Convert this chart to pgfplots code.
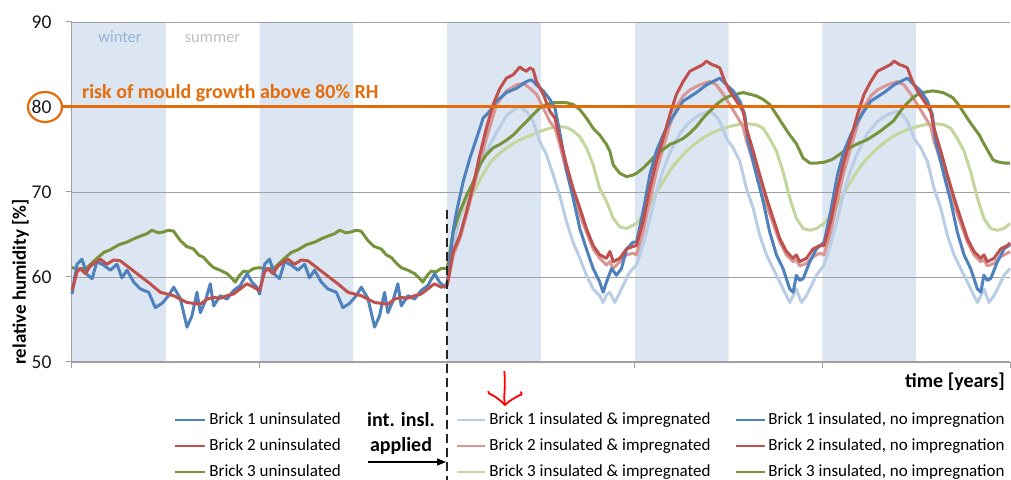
\documentclass[border=0pt]{standalone}
\usepackage{fontspec}
\setmainfont{Carlito}
\usepackage{pgfplots}
\pgfplotsset{compat=1.18}
\usetikzlibrary{shapes.geometric,arrows.meta}
\definecolor{cBlue}{HTML}{4F81BD}
\definecolor{cRed}{HTML}{C0504D}
\definecolor{cGreen}{HTML}{77933C}
\definecolor{cLBlue}{HTML}{B9CDE5}
\definecolor{cLRed}{HTML}{DA9694}
\definecolor{cLGreen}{HTML}{C3D69B}
\definecolor{cBand}{HTML}{DCE6F2}
\definecolor{cOrange}{HTML}{E46C0A}
\definecolor{cGrid}{HTML}{A0A0A0}
\definecolor{cWinter}{HTML}{95B3D7}
\definecolor{cSummer}{HTML}{BFBFBF}
\begin{document}
\begin{tikzpicture}[x=1bp,y=1bp]
\begin{axis}[
  at={(0,0)}, anchor=south west,
  scale only axis, width=938bp, height=340bp,
  xmin=0, xmax=5, ymin=50, ymax=90, enlargelimits=false,
  set layers, clip=false,
  axis x line*=bottom, axis y line*=left,
  axis line style={cGrid, line width=1bp, -},
  xtick={0,1,2,3,4,5}, xticklabels={},
  ytick={50,60,70,80,90},
  ymajorgrids, grid style={cGrid, line width=0.8bp},
  tick align=outside, major tick length=6bp,
  tick style={cGrid, line width=1bp},
  yticklabel style={font=\fontsize{19.5bp}{22bp}\selectfont, xshift=-11bp, text=black!90},
  /pgf/number format/assume math mode=true,
  every axis plot/.append style={line width=3bp, line join=round},
]
% winter bands
\addplot[fill=cBand, draw=none, line width=0, on layer=axis background] coordinates {(0,50)(0,90)(0.5,90)(0.5,50)(0,50)};
\addplot[fill=cBand, draw=none, line width=0, on layer=axis background] coordinates {(1,50)(1,90)(1.5,90)(1.5,50)(1,50)};
\addplot[fill=cBand, draw=none, line width=0, on layer=axis background] coordinates {(2,50)(2,90)(2.5,90)(2.5,50)(2,50)};
\addplot[fill=cBand, draw=none, line width=0, on layer=axis background] coordinates {(3,50)(3,90)(3.5,90)(3.5,50)(3,50)};
\addplot[fill=cBand, draw=none, line width=0, on layer=axis background] coordinates {(4,50)(4,90)(4.5,90)(4.5,50)(4,50)};

% Brick 3 uninsulated
\addplot[cGreen] coordinates {(0,61.1)(0.040,60.9)(0.080,61.1)(0.133,62.2)(0.170,62.9)(0.204,63.2)(0.250,63.8)(0.293,64.1)(0.330,64.5)(0.364,64.8)(0.400,65.1)(0.426,65.5)(0.460,65.2)(0.488,65.3)(0.515,65.5)(0.541,65.4)(0.577,64.3)(0.610,63.6)(0.648,63.3)(0.675,62.6)(0.702,62.3)(0.730,61.6)(0.755,61.1)(0.790,60.8)(0.826,60.4)(0.850,59.9)(0.870,59.4)(0.890,60.1)(0.915,60.7)(0.940,60.6)(0.968,61.0)
(1,61.1)(1.040,60.9)(1.080,61.1)(1.133,62.2)(1.170,62.9)(1.204,63.2)(1.250,63.8)(1.293,64.1)(1.330,64.5)(1.364,64.8)(1.400,65.1)(1.426,65.5)(1.460,65.2)(1.488,65.3)(1.515,65.5)(1.541,65.4)(1.577,64.3)(1.610,63.6)(1.648,63.3)(1.675,62.6)(1.702,62.3)(1.730,61.6)(1.755,61.1)(1.790,60.8)(1.826,60.4)(1.850,59.9)(1.870,59.4)(1.890,60.1)(1.915,60.7)(1.940,60.6)(1.968,61.0)(2.000,61.0)};
% Brick 1 uninsulated
\addplot[cBlue] coordinates {(0,58.0)(0.027,61.5)(0.053,62.1)(0.080,60.3)(0.107,59.8)(0.133,61.8)(0.169,61.4)(0.204,60.8)(0.240,61.5)(0.266,59.9)(0.293,60.8)(0.329,59.4)(0.364,58.6)(0.409,58.2)(0.444,56.4)(0.480,56.9)(0.515,57.8)(0.542,58.8)(0.577,57.5)(0.613,54.1)(0.639,55.4)(0.666,58.2)(0.684,55.8)(0.711,57.2)(0.737,59.2)(0.755,56.6)(0.790,57.8)(0.826,57.4)(0.861,58.4)(0.897,59.0)(0.933,60.4)(0.959,59.4)(0.986,58.8)
(1,58.0)(1.027,61.5)(1.053,62.1)(1.080,60.3)(1.107,59.8)(1.133,61.8)(1.169,61.4)(1.204,60.8)(1.240,61.5)(1.266,59.9)(1.293,60.8)(1.329,59.4)(1.364,58.6)(1.409,58.2)(1.444,56.4)(1.480,56.9)(1.515,57.8)(1.542,58.8)(1.577,57.5)(1.613,54.1)(1.639,55.4)(1.666,58.2)(1.684,55.8)(1.711,57.2)(1.737,59.2)(1.755,56.6)(1.790,57.8)(1.826,57.4)(1.861,58.4)(1.897,59.0)(1.933,60.4)(1.959,59.4)(1.986,58.8)(2.000,59.3)};
% Brick 2 uninsulated
\addplot[cRed] coordinates {(0,58.4)(0.027,60.6)(0.044,61.0)(0.071,60.4)(0.098,61.3)(0.151,62.1)(0.186,61.5)(0.222,62.0)(0.258,61.9)(0.293,61.3)(0.311,61.0)(0.364,60.1)(0.417,59.2)(0.471,58.2)(0.506,58.0)(0.542,57.8)(0.577,57.4)(0.613,57.0)(0.648,56.9)(0.684,56.8)(0.720,57.4)(0.755,57.6)(0.790,57.5)(0.826,57.8)(0.861,58.0)(0.897,58.6)(0.932,59.2)(0.968,58.8)
(1,58.4)(1.027,60.6)(1.044,61.0)(1.071,60.4)(1.098,61.3)(1.151,62.1)(1.186,61.5)(1.222,62.0)(1.258,61.9)(1.293,61.3)(1.311,61.0)(1.364,60.1)(1.417,59.2)(1.471,58.2)(1.506,58.0)(1.542,57.8)(1.577,57.4)(1.613,57.0)(1.648,56.9)(1.684,56.8)(1.720,57.4)(1.755,57.6)(1.790,57.5)(1.826,57.8)(1.861,58.0)(1.897,58.6)(1.932,59.2)(1.968,58.8)(2.000,59.0)};

% Brick 3 insulated & impregnated
\addplot[cLGreen] coordinates {(2.000,61.0)(2.032,64.9)(2.068,67.0)(2.103,68.8)(2.139,69.8)(2.183,71.8)(2.227,73.4)(2.272,74.4)(2.316,75.2)(2.360,75.8)(2.405,76.3)(2.449,76.7)(2.494,77.1)(2.530,77.4)(2.565,77.6)(2.600,77.7)(2.636,77.6)(2.671,77.2)(2.707,76.5)(2.742,75.2)(2.778,73.2)(2.813,70.4)(2.849,68.9)(2.885,66.9)(2.920,65.9)(2.956,65.7)(2.991,66.1)
(3.009,66.3)(3.035,67.0)(3.062,67.7)(3.106,69.6)(3.151,71.2)(3.196,72.8)(3.240,74.0)(3.285,75.0)(3.329,75.8)(3.373,76.5)(3.418,77.0)(3.462,77.4)(3.506,77.7)(3.542,77.9)(3.577,78.0)(3.613,78.0)(3.648,77.9)(3.684,77.5)(3.719,76.3)(3.755,74.8)(3.790,72.4)(3.826,69.3)(3.861,66.9)(3.897,65.7)(3.933,65.5)(3.968,65.7)
(4.009,66.3)(4.035,67.0)(4.062,67.7)(4.106,69.6)(4.151,71.2)(4.196,72.8)(4.240,74.0)(4.285,75.0)(4.329,75.8)(4.373,76.5)(4.418,77.0)(4.462,77.4)(4.506,77.7)(4.542,77.9)(4.577,78.0)(4.613,78.0)(4.648,77.9)(4.684,77.5)(4.719,76.3)(4.755,74.8)(4.790,72.4)(4.826,69.3)(4.861,66.9)(4.897,65.7)(4.933,65.5)(4.968,65.7)(5.000,66.3)};
% Brick 1 insulated & impregnated
\addplot[cLBlue] coordinates {(2.000,59.3)(2.032,63.5)(2.068,67.2)(2.104,69.3)(2.139,71.0)(2.174,73.0)(2.209,74.8)(2.263,77.0)(2.316,79.0)(2.352,79.6)(2.387,80.1)(2.405,79.7)(2.423,79.5)(2.458,78.3)(2.494,75.9)(2.529,74.4)(2.565,72.0)(2.600,69.6)(2.636,66.5)(2.671,64.1)(2.707,62.2)(2.742,60.2)(2.778,58.6)(2.813,57.8)(2.831,57.0)(2.849,57.9)(2.867,58.2)(2.893,57.0)(2.929,58.6)(2.973,60.6)
(3.009,61.4)(3.044,63.8)(3.080,66.8)(3.115,70.0)(3.151,72.6)(3.187,74.6)(3.240,76.9)(3.293,78.3)(3.346,79.1)(3.400,79.5)(3.435,78.9)(3.453,78.3)(3.489,76.3)(3.524,75.2)(3.560,73.6)(3.595,70.4)(3.631,68.1)(3.666,64.9)(3.702,62.6)(3.737,61.0)(3.773,59.4)(3.808,57.8)(3.826,57.0)(3.844,57.8)(3.861,58.6)(3.888,57.0)(3.915,57.8)(3.933,58.6)(3.968,60.2)
(4.009,61.4)(4.044,63.8)(4.080,66.8)(4.115,70.0)(4.151,72.6)(4.187,74.6)(4.240,76.9)(4.293,78.3)(4.346,79.1)(4.400,79.5)(4.435,78.9)(4.453,78.3)(4.489,76.3)(4.524,75.2)(4.560,73.6)(4.595,70.4)(4.631,68.1)(4.666,64.9)(4.702,62.6)(4.737,61.0)(4.773,59.4)(4.808,57.8)(4.826,57.0)(4.844,57.8)(4.861,58.6)(4.888,57.0)(4.915,57.8)(4.933,58.6)(4.968,60.2)(5.000,61.0)};
% Brick 2 insulated & impregnated
\addplot[cLRed] coordinates {(2.000,59.0)(2.032,62.5)(2.068,64.5)(2.103,67.3)(2.139,70.4)(2.174,73.4)(2.209,76.3)(2.263,80.3)(2.316,81.9)(2.369,82.6)(2.405,82.8)(2.441,82.2)(2.476,81.5)(2.512,79.9)(2.547,78.3)(2.574,77.5)(2.600,75.6)(2.636,72.4)(2.671,69.6)(2.707,67.3)(2.742,65.3)(2.778,63.3)(2.813,62.2)(2.849,61.4)(2.867,61.8)(2.885,61.0)(2.920,61.8)(2.956,62.6)(2.991,62.8)
(3.009,62.6)(3.044,65.3)(3.080,69.0)(3.115,72.4)(3.151,75.2)(3.187,77.9)(3.222,80.0)(3.258,81.3)(3.293,82.0)(3.346,82.6)(3.400,83.0)(3.435,82.6)(3.471,81.5)(3.506,80.3)(3.542,79.0)(3.577,77.7)(3.595,76.0)(3.631,73.6)(3.666,71.0)(3.702,68.5)(3.737,66.3)(3.773,64.1)(3.808,62.6)(3.844,61.8)(3.861,62.0)(3.879,61.3)(3.915,61.6)(3.950,62.4)(3.986,62.8)
(4.009,62.6)(4.044,65.3)(4.080,69.0)(4.115,72.4)(4.151,75.2)(4.187,77.9)(4.222,80.0)(4.258,81.3)(4.293,82.0)(4.346,82.6)(4.400,83.0)(4.435,82.6)(4.471,81.5)(4.506,80.3)(4.542,79.0)(4.577,77.7)(4.595,76.0)(4.631,73.6)(4.666,71.0)(4.702,68.5)(4.737,66.3)(4.773,64.1)(4.808,62.6)(4.844,61.8)(4.861,62.0)(4.879,61.3)(4.915,61.6)(4.950,62.4)(4.986,62.8)(5.000,63.0)};

% Brick 3 insulated, no impregnation
\addplot[cGreen] coordinates {(2.000,61.0)(2.032,65.3)(2.068,67.7)(2.103,69.6)(2.139,71.2)(2.174,73.2)(2.209,74.4)(2.245,75.2)(2.281,75.6)(2.316,76.1)(2.352,76.7)(2.387,77.5)(2.423,78.3)(2.458,79.1)(2.494,79.9)(2.529,80.3)(2.565,80.5)(2.600,80.5)(2.636,80.5)(2.671,80.3)(2.707,79.7)(2.742,78.7)(2.778,77.5)(2.813,76.7)(2.849,75.6)(2.867,74.8)(2.885,73.2)(2.920,72.2)(2.956,71.8)(2.991,72.0)
(3.009,72.2)(3.044,72.8)(3.080,73.6)(3.115,74.4)(3.151,75.0)(3.187,75.6)(3.222,75.9)(3.258,76.3)(3.293,76.9)(3.329,77.7)(3.364,78.7)(3.400,79.5)(3.435,80.3)(3.471,80.9)(3.506,81.3)(3.542,81.5)(3.577,81.7)(3.613,81.5)(3.648,81.3)(3.684,80.9)(3.719,80.3)(3.755,79.1)(3.790,77.9)(3.826,76.7)(3.861,75.7)(3.897,74.0)(3.933,73.4)(3.968,73.4)
(4.009,73.5)(4.050,73.8)(4.091,74.4)(4.127,75.0)(4.163,75.4)(4.200,75.8)(4.234,76.1)(4.270,76.6)(4.305,77.1)(4.340,77.7)(4.376,78.3)(4.403,79.1)(4.429,79.9)(4.455,80.5)(4.482,81.1)(4.510,81.5)(4.536,81.7)(4.560,81.8)(4.589,81.9)(4.615,81.8)(4.642,81.7)(4.670,81.4)(4.695,81.1)(4.713,80.6)(4.731,80.1)(4.757,79.2)(4.784,78.3)(4.810,77.5)(4.837,76.7)(4.855,75.9)(4.873,75.2)(4.891,74.5)(4.909,73.8)(4.927,73.6)(4.944,73.5)(4.972,73.4)(5.000,73.4)};
% Brick 1 insulated, no impregnation
\addplot[cBlue] coordinates {(2.000,59.3)(2.032,65.5)(2.050,67.7)(2.085,71.2)(2.121,74.0)(2.156,76.3)(2.192,78.7)(2.227,79.5)(2.263,80.7)(2.316,81.7)(2.369,82.2)(2.423,83.0)(2.449,83.2)(2.476,82.6)(2.512,81.9)(2.547,80.9)(2.574,79.9)(2.600,77.0)(2.618,74.8)(2.636,72.6)(2.671,69.3)(2.707,65.7)(2.742,63.3)(2.778,61.0)(2.813,59.4)(2.831,58.2)(2.849,59.4)(2.876,61.0)(2.902,60.2)(2.929,61.0)(2.956,63.3)(2.991,64.1)
(3.009,64.1)(3.044,67.7)(3.080,72.0)(3.115,74.8)(3.151,76.7)(3.187,78.3)(3.222,79.5)(3.258,80.7)(3.329,81.7)(3.382,82.6)(3.453,83.4)(3.489,82.6)(3.524,81.9)(3.560,80.7)(3.586,79.1)(3.604,75.9)(3.648,72.0)(3.684,68.9)(3.719,65.3)(3.755,62.6)(3.790,61.0)(3.826,58.6)(3.844,58.2)(3.861,60.2)(3.879,59.6)(3.897,59.8)(3.933,61.8)(3.968,63.3)
(4.009,64.1)(4.044,67.7)(4.080,72.0)(4.115,74.8)(4.151,76.7)(4.187,78.3)(4.222,79.5)(4.258,80.7)(4.329,81.7)(4.382,82.6)(4.453,83.4)(4.489,82.6)(4.524,81.9)(4.560,80.7)(4.586,79.1)(4.604,75.9)(4.648,72.0)(4.684,68.9)(4.719,65.3)(4.755,62.6)(4.790,61.0)(4.826,58.6)(4.844,58.2)(4.861,60.2)(4.879,59.6)(4.897,59.8)(4.933,61.8)(4.968,63.3)(5.000,63.8)};
% Brick 2 insulated, no impregnation
\addplot[cRed] coordinates {(2.000,59.0)(2.032,63.0)(2.068,64.9)(2.103,67.7)(2.139,70.8)(2.174,74.4)(2.209,77.5)(2.245,80.3)(2.281,82.2)(2.316,83.4)(2.352,83.8)(2.387,84.7)(2.405,84.4)(2.423,84.2)(2.440,84.6)(2.458,84.4)(2.476,83.0)(2.512,81.5)(2.547,79.5)(2.574,78.7)(2.600,76.3)(2.636,73.2)(2.671,70.4)(2.707,68.1)(2.742,65.7)(2.778,63.7)(2.813,62.6)(2.849,62.2)(2.867,63.0)(2.885,61.8)(2.920,62.2)(2.956,63.3)(2.991,63.6)
(3.009,63.7)(3.044,66.5)(3.080,70.4)(3.115,73.6)(3.151,76.3)(3.187,79.1)(3.222,81.5)(3.258,83.0)(3.293,84.2)(3.329,84.6)(3.364,85.0)(3.382,85.4)(3.410,85.0)(3.435,84.8)(3.453,84.6)(3.480,83.0)(3.506,81.9)(3.542,80.7)(3.577,79.5)(3.595,77.5)(3.631,74.8)(3.666,72.0)(3.702,69.3)(3.737,66.9)(3.773,64.5)(3.808,63.0)(3.844,62.2)(3.861,62.6)(3.879,61.8)(3.915,62.2)(3.950,63.3)(3.986,63.7)
(4.009,63.7)(4.044,66.5)(4.080,70.4)(4.115,73.6)(4.151,76.3)(4.187,79.1)(4.222,81.5)(4.258,83.0)(4.293,84.2)(4.329,84.6)(4.364,85.0)(4.382,85.4)(4.410,85.0)(4.435,84.8)(4.453,84.6)(4.480,83.0)(4.506,81.9)(4.542,80.7)(4.577,79.5)(4.595,77.5)(4.631,74.8)(4.666,72.0)(4.702,69.3)(4.737,66.9)(4.773,64.5)(4.808,63.0)(4.844,62.2)(4.861,62.6)(4.879,61.8)(4.915,62.2)(4.950,63.3)(4.986,63.7)(5.000,64.0)};

% threshold line and circled tick label
\draw[cOrange, line width=3bp] ([xshift=-10bp]axis cs:0,80) -- (axis cs:5,80);
\node[draw=cOrange, line width=2.2bp, ellipse, minimum width=34bp, minimum height=30bp, inner sep=0pt] at ([xshift=-27bp]axis cs:0,80) {};
% insulation applied
\draw[black!85, line width=1.5bp, dash pattern=on 9bp off 5bp] (axis cs:2,67.9) -- (axis cs:2,50) -- ([yshift=-118bp]axis cs:2,50);
\end{axis}

% texts in the plot
\node[anchor=base, inner sep=0pt, text=cWinter, font=\fontsize{16.5bp}{19bp}\selectfont] at (48,319) {winter};
\node[anchor=base, inner sep=0pt, text=cSummer, font=\fontsize{16.5bp}{19bp}\selectfont] at (140.5,319) {summer};
\node[anchor=base west, inner sep=0pt, text=cOrange, font=\fontsize{20bp}{23bp}\selectfont\bfseries] at (10,263) {risk of mould growth above 80\% RH};
\node[anchor=base east, inner sep=0pt, font=\fontsize{20bp}{23bp}\selectfont\bfseries] at (933,-26) {time [years]};
\node[anchor=base, rotate=90, inner sep=0pt, font=\fontsize{19bp}{22bp}\selectfont\bfseries] at (-46,80) {relative humidity [\%]};

% red hand mark
\draw[red, line width=1.8bp, line cap=round] (432.3,-9.7) .. controls (434,-25) and (431,-35) .. (433,-43);
\draw[red, line width=1.8bp, line cap=round, line join=round] (416.3,-29.5) -- (417,-31.5) .. controls (423,-34) and (428,-38) .. (433,-43) .. controls (438,-38) and (444,-35) .. (449.7,-32.3) -- (449,-30);

% int. insl. applied
\node[anchor=base, inner sep=0pt, font=\fontsize{20bp}{23bp}\selectfont\bfseries] at (329,-65) {int. insl.};
\node[anchor=base, inner sep=0pt, font=\fontsize{20bp}{23bp}\selectfont\bfseries] at (329,-89.7) {applied};
\draw[-{Triangle[length=9bp,width=7bp]}, line width=1.3bp] (296,-100) -- (374,-100);

% legend
\begin{scope}[every node/.style={anchor=base west, inner sep=0pt, font=\fontsize{17bp}{20bp}\selectfont}, line width=2.8bp]
\draw[cBlue] (103,-58) -- (133,-58); \node at (136,-62.3) {Brick 1 uninsulated};
\draw[cRed] (103,-84) -- (133,-84); \node at (136,-88.3) {Brick 2 uninsulated};
\draw[cGreen] (103,-110) -- (133,-110); \node at (136,-114.3) {Brick 3 uninsulated};
\draw[cLBlue] (385,-58) -- (413,-58); \node at (416,-62.3) {Brick 1 insulated \& impregnated};
\draw[cLRed] (385,-84) -- (413,-84); \node at (416,-88.3) {Brick 2 insulated \& impregnated};
\draw[cLGreen] (385,-110) -- (413,-110); \node at (416,-114.3) {Brick 3 insulated \& impregnated};
\draw[cBlue] (664,-58) -- (693,-58); \node at (695,-62.3) {Brick 1 insulated, no impregnation};
\draw[cRed] (664,-84) -- (693,-84); \node at (695,-88.3) {Brick 2 insulated, no impregnation};
\draw[cGreen] (664,-110) -- (693,-110); \node at (695,-114.3) {Brick 3 insulated, no impregnation};
\end{scope}
\pgfresetboundingbox
\useasboundingbox (-72,-118) rectangle (939,362);
\end{tikzpicture}
\end{document}
